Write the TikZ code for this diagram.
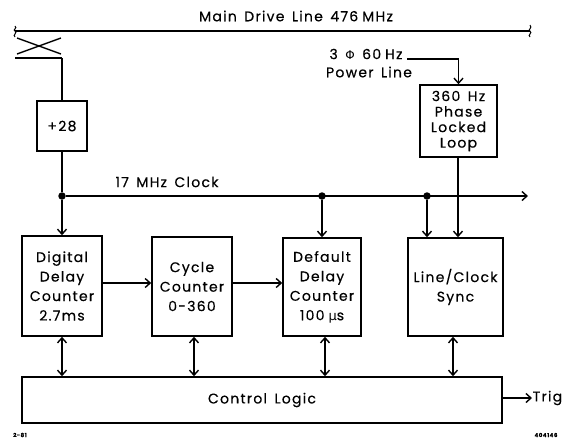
\documentclass[tikz,border=0pt]{standalone}
\usepackage{fontspec}
\setmainfont{Poppins}[LetterSpace=9,WordSpace=1.5,FakeBold=0.4]
\newfontfamily\gr{DejaVu Sans}
\usetikzlibrary{arrows.meta}
\begin{document}
\begin{tikzpicture}[x=1pt,y=-1pt,line width=1.4pt,
  txt/.style={font=\fontsize{14}{19.5}\selectfont},
  box/.style={draw,line width=1.6pt,align=center,inner sep=0pt,txt},
  arr/.style={-{Straight Barb[length=5pt,width=9pt]}},
  dbl/.style={{Straight Barb[length=5pt,width=9pt]}-{Straight Barb[length=5pt,width=9pt]}},
  lbl/.style={inner sep=0pt,txt},
  dot/.style={circle,fill,inner sep=0pt,minimum size=7.5pt},
  tiny/.style={inner sep=0pt,font=\fontsize{5.5}{6}\selectfont\bfseries}]
\useasboundingbox (0,0) rectangle (568,440);
% main drive line
\node[lbl] (mdl) at (296,16) {Main Drive Line 476\hspace{4pt}MHz};
\coordinate (ml0) at (15,31);
\coordinate (ml1) at (530,31);
\draw (ml0) -- (ml1);
\draw[line width=1pt] (15,26) .. controls (18,28) and (12,30) .. (15,31) .. controls (18,33) and (12,35) .. (15,37);
\draw[line width=1pt] (530,25) .. controls (533,28) and (527,30) .. (530,31) .. controls (533,33) and (527,35) .. (530,37);
% coupler
\draw (17,38) -- (61,54);
\draw (17,54) -- (61,38);
\coordinate (cp0) at (15,58);
\coordinate (cp1) at (62,58);
\draw (cp0) -- (cp1);
% boxes
\node[box,minimum width=50pt,minimum height=50pt] (p28) at (62,126) {+28};
\node[box,minimum width=77pt,minimum height=72pt,font=\fontsize{14}{15.5}\selectfont] (pll) at (458.5,121) {360 Hz\\Phase\\Locked\\Loop};
\node[box,minimum width=80pt,minimum height=100pt] (ddc) at (62,286) {Digital\\Delay\\Counter\\2.7ms};
\node[box,minimum width=80pt,minimum height=99pt] (cyc) at (192,286.5) {Cycle\\Counter\\0-360};
\node[box,minimum width=78pt,minimum height=98pt] (def) at (322,287) {Default\\Delay\\Counter\\100\hspace{4pt}{\gr\fontsize{13}{19}\selectfont μ}s};
\node[box,minimum width=95pt,minimum height=98pt] (lcs) at (455.5,287) {Line/Clock\\Sync};
\node[box,minimum width=480pt,minimum height=46pt] (ctl) at (262,400) {Control Logic};
% power line
\node[lbl] (pw1) at (366,54) {3 {\gr\fontsize{12}{13}\selectfont Φ} 60\hspace{4pt}Hz};
\node[lbl] (pw2) at (369,72) {Power Line};
\coordinate (pwc) at (pll.north |- 0,59);
\draw[arr] (pw1.east |- pwc) ++(4,0) -- (pwc) -- (pll.north);
% coupler to +28
\draw (cp1) -- (p28.north);
% clock line
\node[lbl] (clk) at (167,182) {17 MHz Clock};
\node[dot] (d0) at (62,196) {};
\node[dot] (d1) at (322,196) {};
\node[dot] (d2) at (427,196) {};
\coordinate (cend) at (528,196);
\draw (p28.south) -- (d0);
\draw[arr] (d0) -- (cend);
\draw[arr] (d0) -- (ddc.north);
\draw[arr] (d1) -- (def.north);
\draw[arr] (d2) -- (d2 |- lcs.north);
\draw[arr] ([xshift=-0.5pt]pll.south) -- ([xshift=-0.5pt]pll.south |- lcs.north);
% horizontal data arrows
\coordinate (r1) at (0,283);
\draw[arr] (ddc.east |- r1) -- (cyc.west |- r1);
\draw[arr] (cyc.east |- r1) -- (def.west |- r1);
% double arrows
\draw[dbl] (ddc.south) -- (ddc.south |- ctl.north);
\draw[dbl] ([xshift=2pt]cyc.south) -- ([xshift=2pt]cyc.south |- ctl.north);
\draw[dbl] ([xshift=3pt]def.south) -- ([xshift=3pt]def.south |- ctl.north);
\draw[dbl] ([xshift=-2.5pt]lcs.south) -- ([xshift=-2.5pt]lcs.south |- ctl.north);
% trig
\node[lbl,anchor=west] (trig) at (532,398) {Trig};
\draw[arr] (ctl.east |- trig.west) -- (trig.west);
% corner labels
\node[tiny] (n1) at (20,435) {2-81};
\node[tiny] (n2) at (546,435) {404146};
\end{tikzpicture}
\end{document}
